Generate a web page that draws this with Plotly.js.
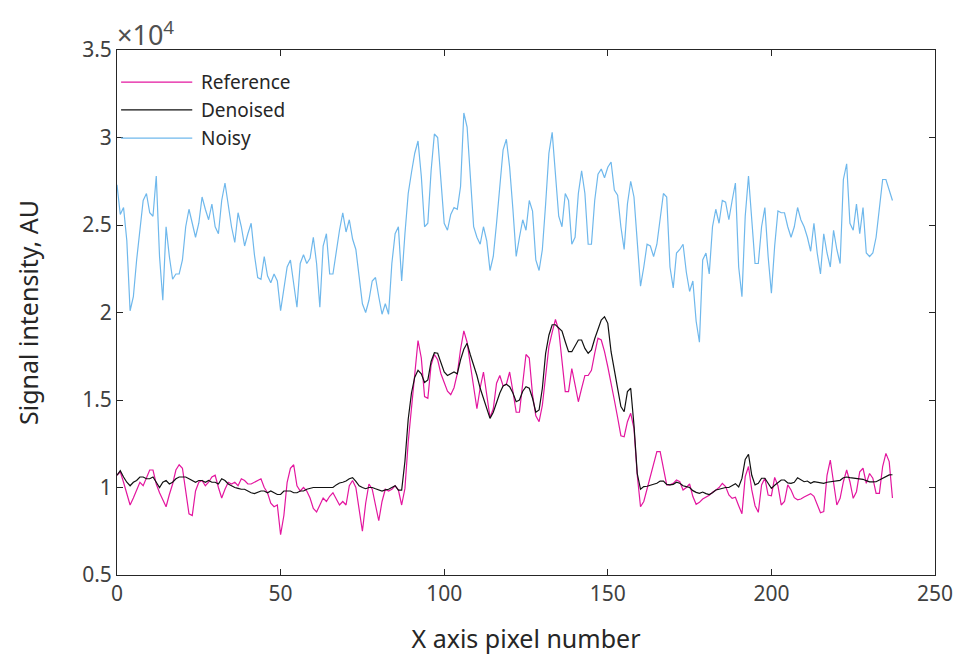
<!DOCTYPE html>
<html>
<head>
<meta charset="utf-8">
<script src="https://cdn.plot.ly/plotly-3.0.1.min.js"></script>
<style>html,body{margin:0;padding:0;background:#fff;}#chart{width:971px;height:665px;}</style>
</head>
<body>
<div id="chart"></div>
<script>
// Signal intensity values in units of 10^4 (axis multiplier shown as x10^4), one per pixel 0..237
const noisy = [
2.73,2.56,2.60,2.41,2.01,2.09,2.30,2.49,2.64,2.68,2.57,2.55,2.78,2.32,2.07,2.49,2.32,2.19,2.22,2.22,
2.30,2.49,2.59,2.51,2.43,2.51,2.66,2.59,2.53,2.62,2.49,2.45,2.64,2.74,2.60,2.49,2.40,2.57,2.49,2.38,
2.45,2.51,2.33,2.20,2.19,2.32,2.21,2.17,2.22,2.18,2.01,2.15,2.26,2.30,2.15,2.03,2.28,2.33,2.28,2.31,
2.43,2.28,2.03,2.38,2.45,2.22,2.22,2.36,2.47,2.57,2.46,2.53,2.42,2.36,2.19,2.05,2.00,2.07,2.18,2.20,
2.09,1.99,2.05,1.99,2.28,2.45,2.49,2.18,2.45,2.68,2.80,2.91,2.98,2.78,2.49,2.51,2.81,3.02,3.00,2.78,
2.51,2.47,2.56,2.60,2.59,2.72,3.14,3.06,2.76,2.49,2.43,2.39,2.49,2.41,2.24,2.32,2.51,2.74,2.93,2.99,
2.83,2.59,2.32,2.43,2.53,2.47,2.64,2.58,2.30,2.24,2.36,2.62,2.91,3.03,2.76,2.55,2.49,2.68,2.64,2.39,
2.43,2.68,2.81,2.68,2.39,2.39,2.64,2.79,2.82,2.77,2.83,2.86,2.70,2.67,2.49,2.36,2.62,2.75,2.66,2.41,
2.15,2.26,2.39,2.38,2.32,2.39,2.55,2.68,2.66,2.26,2.14,2.34,2.36,2.39,2.23,2.12,2.18,1.95,1.83,2.30,
2.34,2.22,2.49,2.59,2.51,2.64,2.63,2.53,2.64,2.74,2.26,2.09,2.55,2.78,2.53,2.28,2.28,2.49,2.60,2.32,
2.11,2.38,2.58,2.57,2.57,2.49,2.43,2.49,2.60,2.53,2.49,2.43,2.35,2.51,2.34,2.22,2.45,2.34,2.26,2.47,
2.36,2.28,2.76,2.85,2.51,2.47,2.62,2.45,2.60,2.34,2.32,2.34,2.43,2.60,2.76,2.76,2.70,2.64
];
const reference = [
1.07,1.09,1.03,0.96,0.90,0.94,0.99,1.03,1.01,1.05,1.10,1.10,1.02,0.97,0.93,0.89,0.96,1.02,1.10,1.13,
1.11,0.97,0.85,0.84,0.98,1.03,1.04,1.01,1.03,1.06,1.07,1.00,0.94,0.99,1.03,1.02,1.03,1.01,1.05,1.04,
1.02,1.02,1.03,1.04,1.05,1.00,0.97,0.91,0.89,0.90,0.73,0.84,1.03,1.11,1.13,1.01,0.98,1.00,0.98,0.94,
0.88,0.86,0.90,0.94,0.92,0.95,0.97,0.93,0.90,0.92,0.90,1.01,1.04,1.00,0.88,0.75,0.91,1.02,0.99,0.89,
0.81,0.92,0.99,0.98,0.99,1.01,0.985,0.90,0.995,1.26,1.45,1.62,1.84,1.74,1.52,1.51,1.70,1.76,1.73,1.65,
1.605,1.55,1.53,1.57,1.65,1.79,1.895,1.83,1.70,1.57,1.45,1.57,1.66,1.53,1.40,1.45,1.596,1.64,1.58,1.59,
1.66,1.55,1.43,1.43,1.59,1.76,1.74,1.53,1.41,1.376,1.47,1.63,1.805,1.887,1.96,1.90,1.72,1.548,1.548,1.68,
1.586,1.49,1.567,1.64,1.64,1.67,1.767,1.853,1.843,1.776,1.69,1.605,1.50,1.40,1.296,1.29,1.376,1.424,1.338,1.07,
0.89,0.92,0.995,1.068,1.13,1.205,1.205,1.11,1.015,1.015,1.024,1.043,1.033,0.986,1.00,1.02,0.948,0.904,0.915,0.934,
0.946,0.955,0.973,0.984,1.00,1.024,1.005,0.957,0.938,0.944,0.896,0.85,1.062,1.12,0.986,0.896,0.858,1.015,1.053,0.957,
0.953,1.058,1.01,0.90,0.92,1.015,0.986,0.942,0.93,0.934,0.946,0.955,0.965,0.95,0.90,0.856,0.862,1.07,1.157,1.024,
0.90,0.938,1.033,1.10,1.033,0.938,0.976,1.09,1.11,1.024,1.08,1.053,0.967,0.967,1.12,1.195,1.148,0.94
];
const denoised = [
1.07,1.096,1.06,1.03,1.01,1.03,1.04,1.06,1.06,1.05,1.05,1.06,1.03,1.00,1.03,1.04,1.02,1.03,1.05,1.06,
1.06,1.06,1.05,1.04,1.03,1.04,1.04,1.03,1.04,1.03,1.03,1.02,1.05,1.04,1.02,1.01,1.00,0.995,0.99,0.99,
0.98,0.97,0.965,0.974,0.98,0.98,0.97,0.98,0.97,0.96,0.96,0.98,0.98,0.98,0.97,0.97,0.98,0.98,0.99,0.997,
1.00,1.00,1.00,1.00,1.00,1.00,1.00,1.015,1.026,1.03,1.037,1.05,1.056,1.035,1.01,1.00,0.993,1.00,1.00,0.993,
0.986,0.98,0.986,0.99,1.00,1.01,0.985,0.985,1.15,1.39,1.54,1.63,1.67,1.65,1.60,1.615,1.72,1.77,1.767,1.71,
1.66,1.64,1.65,1.66,1.65,1.73,1.79,1.824,1.757,1.70,1.64,1.567,1.51,1.45,1.395,1.43,1.49,1.54,1.58,1.59,
1.576,1.54,1.49,1.50,1.55,1.576,1.567,1.51,1.43,1.443,1.567,1.767,1.87,1.93,1.93,1.91,1.894,1.833,1.776,1.776,
1.814,1.843,1.843,1.795,1.767,1.786,1.85,1.906,1.957,1.976,1.938,1.776,1.662,1.567,1.462,1.433,1.548,1.567,1.357,1.08,
0.99,1.005,1.007,1.013,1.015,1.024,1.037,1.037,1.018,1.015,1.018,1.03,1.024,1.01,1.005,1.00,0.982,0.972,0.967,0.974,
0.965,0.96,0.97,0.986,0.99,0.997,1.00,1.00,1.009,1.022,1.003,1.052,1.16,1.19,1.07,1.015,1.024,1.053,1.053,1.02,
0.995,1.013,1.03,1.043,1.043,1.026,1.024,1.03,1.056,1.043,1.033,1.037,1.024,1.033,1.03,1.028,1.024,1.03,1.032,1.033,
1.037,1.041,1.056,1.06,1.056,1.054,1.05,1.048,1.047,1.039,1.032,1.032,1.033,1.043,1.052,1.064,1.072,1.073
];
const seriesNames = ['Reference', 'Denoised', 'Noisy'];
const xTickVals = [0, 50, 100, 150, 200, 250];
const yTickVals = [0.5, 1, 1.5, 2, 2.5, 3, 3.5];
const yTickText = ['0.5', '1', '1.5', '2', '2.5', '3', '3.5'];

const colors = {Reference: '#e3169f', Denoised: '#111111', Noisy: '#6fb8ec'};
const FONT = 'Noto Sans, Open Sans, sans-serif';
const TXT = '#262626';

const traces = [
  {y: noisy, name: 'Noisy', type: 'scatter', mode: 'lines', line: {color: colors.Noisy, width: 1.2}},
  {y: reference, name: 'Reference', type: 'scatter', mode: 'lines', line: {color: colors.Reference, width: 1.2}},
  {y: denoised, name: 'Denoised', type: 'scatter', mode: 'lines', line: {color: colors.Denoised, width: 1.2}}
];

// Custom legend (long line samples, as in the original)
const legY = [0.939, 0.886, 0.832];
const shapes = [];
const annotations = [];
seriesNames.forEach((n, k) => {
  shapes.push({type: 'line', xref: 'paper', yref: 'paper', x0: 0.005, x1: 0.092, y0: legY[k], y1: legY[k],
    line: {color: colors[n], width: 1.3}});
  annotations.push({xref: 'paper', yref: 'paper', x: 0.100, y: legY[k], xanchor: 'left', yanchor: 'middle',
    text: n, showarrow: false, font: {family: FONT, size: 19, color: TXT}});
});
annotations.push({xref: 'paper', yref: 'paper', x: -0.003, y: 0.99, xanchor: 'left', yanchor: 'bottom',
  text: '\u00d710<sup>4</sup>', showarrow: false, font: {family: FONT, size: 27, color: '#505050'}});

const layout = {
  width: 971, height: 665,
  margin: {l: 117, r: 36, t: 50, b: 90, pad: 0},
  paper_bgcolor: '#ffffff', plot_bgcolor: '#ffffff',
  showlegend: false,
  font: {family: FONT, color: TXT},
  xaxis: {
    range: [0, 250], tickvals: xTickVals, ticks: 'inside', ticklen: 6, tickcolor: '#262626',
    showline: true, linecolor: '#262626', linewidth: 1, mirror: 'ticks', showgrid: false, zeroline: false,
    tickfont: {family: FONT, size: 21, color: '#404040'},
    title: {text: 'X axis pixel number', font: {family: FONT, size: 25, color: TXT}, standoff: 24}
  },
  yaxis: {
    range: [0.5, 3.5], tickvals: yTickVals, ticktext: yTickText, ticks: 'inside', ticklen: 6, tickcolor: '#262626',
    showline: true, linecolor: '#262626', linewidth: 1, mirror: 'ticks', showgrid: false, zeroline: false,
    tickfont: {family: FONT, size: 21, color: '#404040'},
    title: {text: 'Signal intensity, AU', font: {family: FONT, size: 25, color: TXT}, standoff: 36}
  },
  shapes: shapes,
  annotations: annotations
};

Plotly.newPlot('chart', traces, layout, {displayModeBar: false, staticPlot: true});
</script>
</body>
</html>
